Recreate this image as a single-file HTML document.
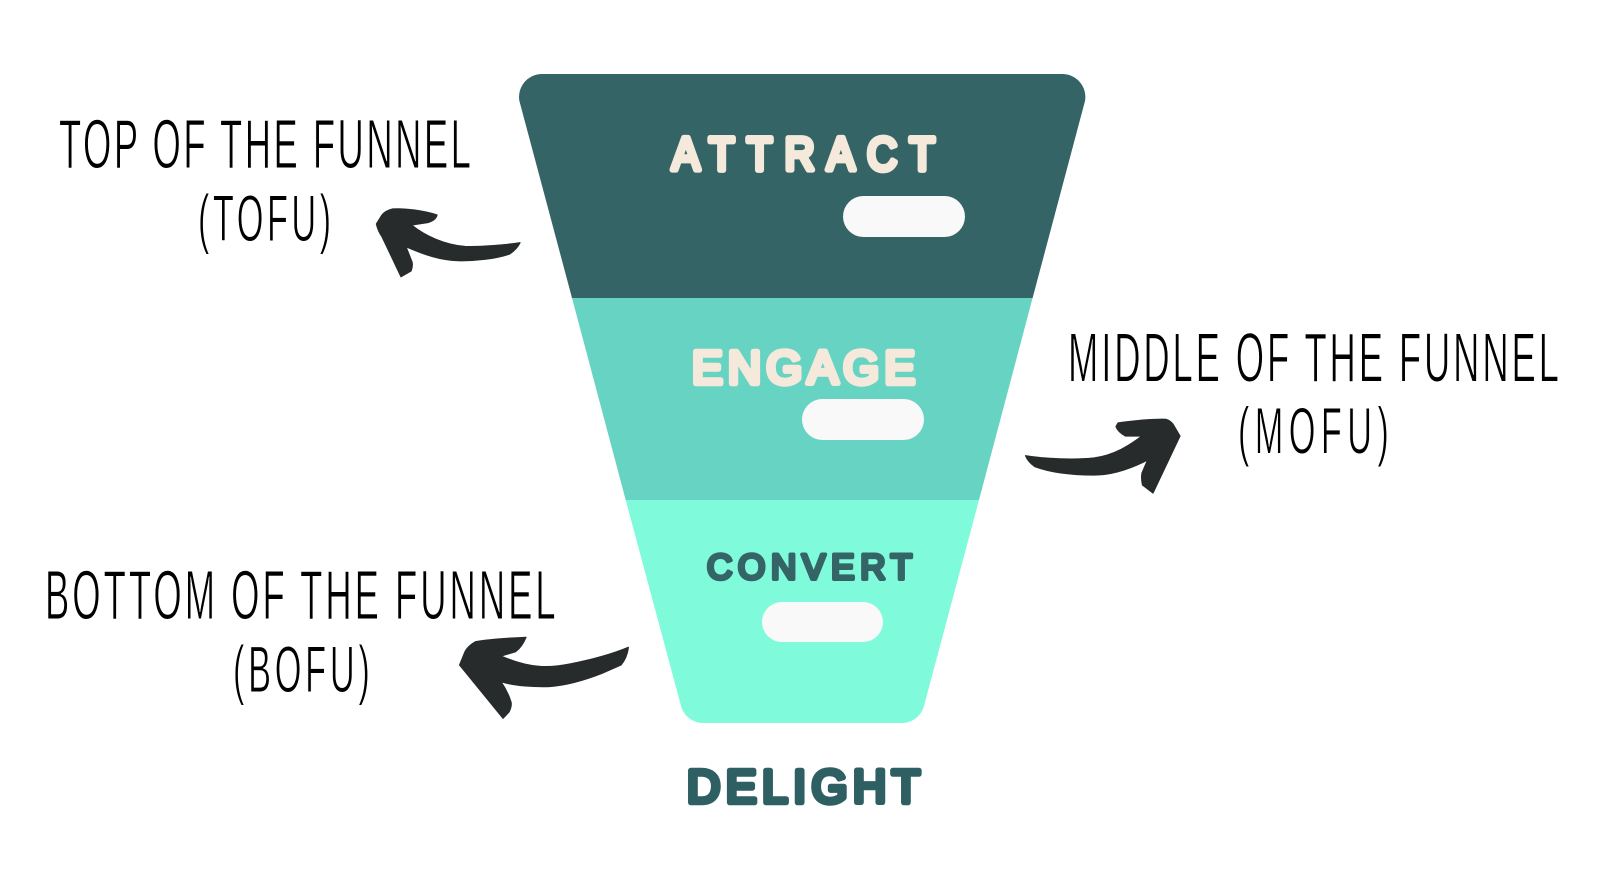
<!DOCTYPE html>
<html>
<head>
<meta charset="utf-8">
<style>
html,body{margin:0;padding:0;background:#fff;width:1600px;height:885px;overflow:hidden}
svg{display:block}
.lab{font-family:"Liberation Sans",sans-serif;font-weight:400;stroke-linejoin:round;stroke-linecap:round}
.hand{font-family:"Liberation Sans",sans-serif;font-weight:400;font-size:70px;fill:#000;stroke:#fff;stroke-width:1px}
.hand2{font-size:66px}
.arrow{fill:#272B2B;stroke:#272B2B;stroke-width:1.2;stroke-linejoin:round}
</style>
</head>
<body>
<svg width="1600" height="885" viewBox="0 0 1600 885" xmlns="http://www.w3.org/2000/svg">
<rect width="1600" height="885" fill="#fff"/>
<!-- funnel -->
<path d="M572 298 L519.4 101 A23 23 0 0 1 541 74 L1063 74 A23 23 0 0 1 1085 101 L1032.6 298 Z" fill="#356466"/>
<path d="M572 298 L1032.6 298 L979 500 L625.7 500 Z" fill="#67D3C2"/>
<path d="M625.7 500 L979 500 L924.5 704 A23 23 0 0 1 903 723 L702 723 A23 23 0 0 1 680.5 704 Z" fill="#7FFBDB"/>
<!-- pills -->
<rect x="843" y="196" width="122" height="41" rx="20.5" fill="#F9F9F9"/>
<rect x="802" y="399" width="122" height="41" rx="20.5" fill="#F9F9F9"/>
<rect x="762" y="602" width="121" height="40" rx="20" fill="#F9F9F9"/>
<!-- labels -->
<text class="lab" transform="translate(672,170) scale(.9,1)" font-size="46" textLength="292" lengthAdjust="spacing" fill="#F5E9DC" stroke="#F5E9DC" stroke-width="5.8">ATTRACT</text>
<text class="lab" x="692" y="383.3" font-size="46" textLength="223" lengthAdjust="spacing" fill="#F5E9DC" stroke="#F5E9DC" stroke-width="5.5">ENGAGE</text>
<text class="lab" x="707" y="579" font-size="35" textLength="205" lengthAdjust="spacing" fill="#356466" stroke="#356466" stroke-width="4">CONVERT</text>
<text class="lab" x="687" y="802.3" font-size="46" textLength="233" lengthAdjust="spacing" fill="#2E6063" stroke="#2E6063" stroke-width="5.5">DELIGHT</text>
<!-- hand text -->
<text class="hand" transform="translate(59,168) scale(.52,1)" textLength="792" lengthAdjust="spacing">TOP OF THE FUNNEL</text>
<text class="hand hand2" transform="translate(198,241) scale(.52,1)" textLength="256" lengthAdjust="spacing">(TOFU)</text>
<text class="hand" transform="translate(1068,381.5) scale(.52,1)" textLength="944" lengthAdjust="spacing">MIDDLE OF THE FUNNEL</text>
<text class="hand hand2" transform="translate(1238,453.5) scale(.52,1)" textLength="290" lengthAdjust="spacing">(MOFU)</text>
<text class="hand" transform="translate(45,619) scale(.52,1)" textLength="982" lengthAdjust="spacing">BOTTOM OF THE FUNNEL</text>
<text class="hand hand2" transform="translate(233,692) scale(.52,1)" textLength="263" lengthAdjust="spacing">(BOFU)</text>
<!-- arrows -->
<path class="arrow" d="M520 242.7 C505 245 482 247 465 246.5 C445 245 425 236 411.5 225 L428 222.5 Q436 220 437 215 C425 211 405 208 392.6 209 Q385 211 382 215 L376.4 224 Q378 231 382 236.7 L401 276.7 L411 271 Q413 266 412 262 L406 246.7 C425 255 440 260 458 260.7 C475 261 495 259 509.6 254 Q517 249 520 242.7 Z"/>
<path class="arrow" d="M1025.5 455.7 C1045 459 1075 460 1094 458 C1115 455 1130 445 1142 436 L1125.4 436 Q1118 432 1116 426.7 L1118 423 C1130 421 1150 419 1166 419.3 Q1171 421 1173.5 425 L1180 436 L1153 493 L1142.5 485 Q1141 478 1142 473 L1147.6 460 C1130 469 1112 475 1094 475 C1075 475 1052 473 1035 466.7 Q1028 462 1025.5 455.7 Z"/>
<path class="arrow" d="M628.4 647.3 C610 655 590 660 570 664 C550 668 530 669 501 656 L515.6 651.7 Q522 647 526 637.3 C510 638 490 639 475.6 641.7 Q468 646 465 651.7 L459.6 665 L503 718.3 L509 712 Q512 706 511 702 Q508 692 501 681.7 C515 686 535 687 550 686.5 C570 685 590 678 602 673.3 L621 665 Q627 658 628.4 647.3 Z"/>
</svg>
</body>
</html>
